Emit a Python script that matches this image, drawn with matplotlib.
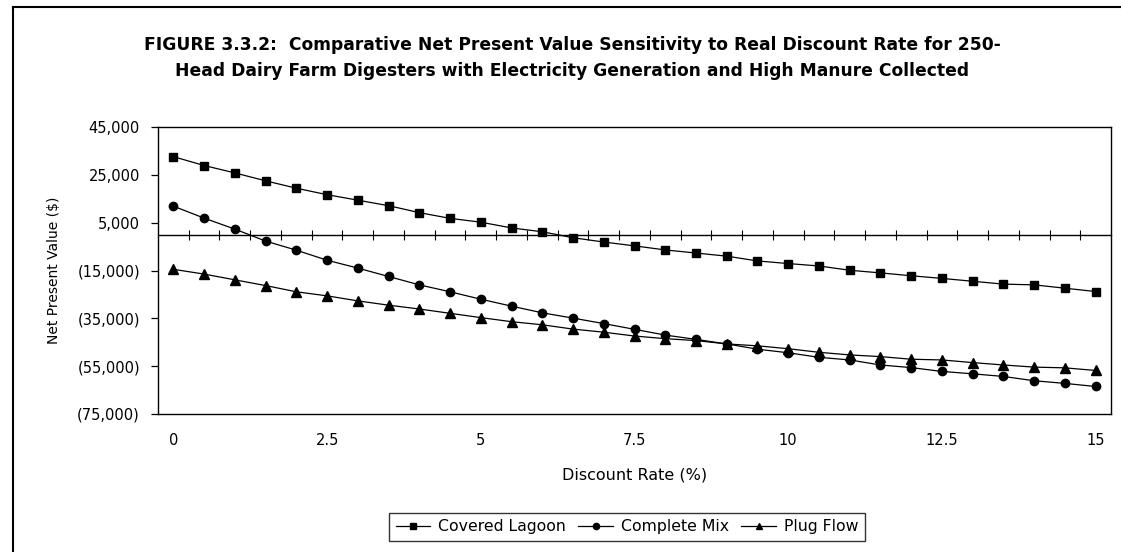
import matplotlib
matplotlib.use("Agg")
import matplotlib.pyplot as plt
from matplotlib.ticker import FuncFormatter, FixedLocator
from matplotlib.lines import Line2D
import numpy as np

plt.rcParams['font.family'] = ['DejaVu Sans']

# ---- data ----
rates = [0, 0.5, 1.0, 1.5, 2.0, 2.5, 3.0, 3.5, 4.0, 4.5, 5.0, 5.5, 6.0, 6.5, 7.0, 7.5,
         8.0, 8.5, 9.0, 9.5, 10.0, 10.5, 11.0, 11.5, 12.0, 12.5, 13.0, 13.5, 14.0, 14.5, 15.0]
covered_lagoon = [32600, 28900, 25800, 22500, 19400, 16700, 14400, 12100, 9200, 6800,
                  5200, 2800, 1200, -1300, -3100, -4700, -6400, -7700, -9000, -11000,
                  -12100, -13100, -14900, -16000, -17200, -18300, -19500, -20700, -21000,
                  -22400, -23800]
complete_mix = [11900, 6900, 2300, -2700, -6500, -10700, -14000, -17500, -21000, -23900,
                -27000, -29900, -32700, -34900, -37200, -39600, -42000, -43800, -45700,
                -47900, -49400, -51300, -52400, -54500, -55600, -57200, -58200, -59300,
                -61100, -62200, -63500]
plug_flow = [-14500, -16500, -18900, -21300, -23900, -25600, -27700, -29500, -31100,
             -32900, -34700, -36400, -37700, -39500, -40800, -42400, -43500, -44300,
             -45700, -46500, -47700, -49200, -50300, -51000, -52100, -52400, -53500,
             -54500, -55400, -55700, -56800]
series_names = ["Covered Lagoon", "Complete Mix", "Plug Flow"]
y_ticks = [45000, 25000, 5000, -15000, -35000, -55000, -75000]
x_labels = [0, 2.5, 5, 7.5, 10, 12.5, 15]

title = ("FIGURE 3.3.2:  Comparative Net Present Value Sensitivity to Real Discount Rate for 250-\n"
         "Head Dairy Farm Digesters with Electricity Generation and High Manure Collected")

W, H = 1121, 552
fig = plt.figure(figsize=(W / 100, H / 100), dpi=100)
fig.patch.set_facecolor('white')

L, R, T, B = 158, 1111, 127, 414
ax = fig.add_axes([L / W, 1 - B / H, (R - L) / W, (B - T) / H])

ax.plot(rates, covered_lagoon, color='black', lw=0.9, marker='s', ms=6, label=series_names[0])
ax.plot(rates, complete_mix, color='black', lw=0.9, marker='o', ms=6, label=series_names[1])
ax.plot(rates, plug_flow, color='black', lw=0.9, marker='^', ms=6.5, label=series_names[2])

step = rates[1] - rates[0]
ax.set_xlim(rates[0] - step / 2, rates[-1] + step / 2)
ax.set_ylim(min(y_ticks), max(y_ticks))

ax.yaxis.set_major_locator(FixedLocator(y_ticks))
ax.yaxis.set_major_formatter(FuncFormatter(
    lambda v, p: f"({abs(v):,.0f})" if v < 0 else f"{v:,.0f}"))
ax.xaxis.set_major_locator(FixedLocator(x_labels))
ax.xaxis.set_major_formatter(FuncFormatter(lambda v, p: f"{v:g}"))
ax.tick_params(axis='x', length=0, pad=14, labelsize=10.5)
ax.tick_params(axis='y', length=5, width=0.9, direction='out', pad=8, labelsize=10.5)
for s in ax.spines.values():
    s.set_linewidth(1.0)

# category axis crossing at zero
zero_frac = (0 - min(y_ticks)) / (max(y_ticks) - min(y_ticks))
sec = ax.secondary_xaxis(zero_frac)
bounds = list(np.array(rates[:-1]) + step / 2)
sec.xaxis.set_major_locator(FixedLocator(bounds))
sec.tick_params(axis='x', direction='inout', length=7, width=0.8, labelbottom=False,
                labeltop=False)
sec.spines['bottom'].set_linewidth(1.0)
sec.spines['top'].set_linewidth(1.0)

ax.set_xlabel("Discount Rate (%)", fontsize=11.5, labelpad=14)
ax.set_ylabel("Net Present Value ($)", fontsize=10, labelpad=12)

fig.text(572 / W, 1 - 58 / H, title, ha='center', va='center', fontsize=12.3,
         fontweight='bold', linespacing=1.6)

leg = fig.legend(loc='center', bbox_to_anchor=(627 / W, 1 - 527 / H), ncol=3,
                 frameon=True, fancybox=False, edgecolor='black', fontsize=11.3,
                 markerscale=0.75, handlelength=2.2, handletextpad=0.5, columnspacing=0.8,
                 borderpad=0.4)
leg.get_frame().set_linewidth(1.0)

# outer border (left and top edges visible)
fig.add_artist(Line2D([13 / W, 13 / W], [0, 1 - 7 / H], transform=fig.transFigure,
                      color='black', lw=1.5))
fig.add_artist(Line2D([13 / W, 1], [1 - 7 / H, 1 - 7 / H], transform=fig.transFigure,
                      color='black', lw=1.5))

fig.savefig("out.png", dpi=100, facecolor='white')
